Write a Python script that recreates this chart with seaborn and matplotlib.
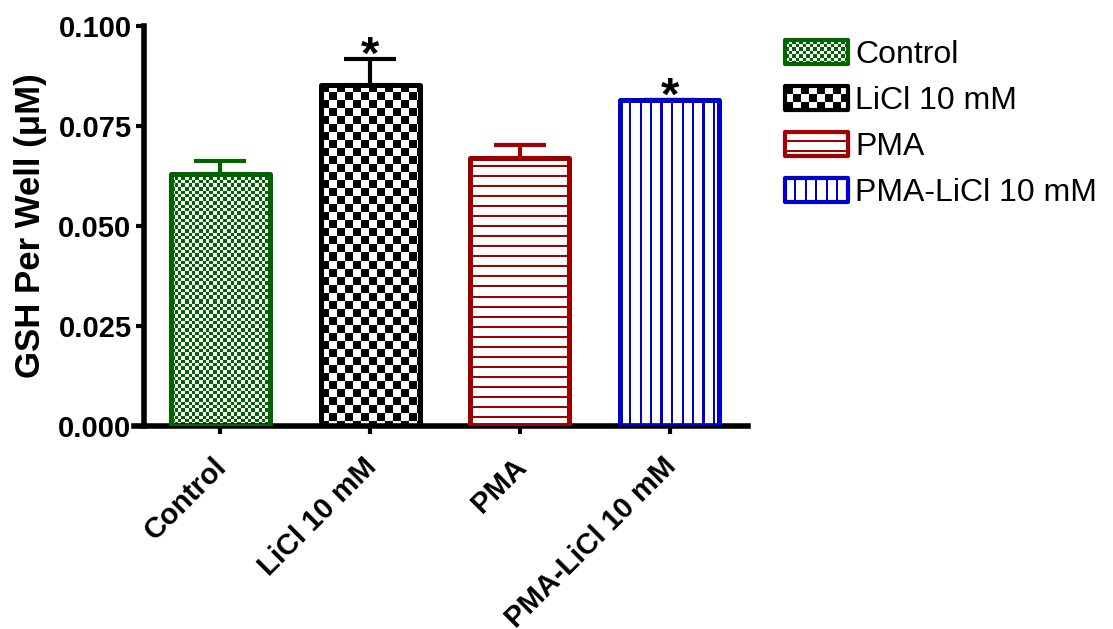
import numpy as np
import pandas as pd
import matplotlib
matplotlib.use('Agg')
import matplotlib.pyplot as plt
import seaborn as sns
from matplotlib.patches import Rectangle, Patch
from matplotlib.legend_handler import HandlerBase
from matplotlib.transforms import ScaledTranslation

# valores
groups = ['Control', 'LiCl 10 mM', 'PMA', 'PMA-LiCl 10 mM']
gsh = [0.0630, 0.0853, 0.0671, 0.0814]
sem = [0.0033, 0.0065, 0.0031, 0.0]
signif = ['', '*', '', '*']
colors = ['#006400', '#000000', '#a00000', '#0000cc']
patterns = ['fine_checker', 'checker', 'hlines', 'vlines']
yticks = [0.000, 0.025, 0.050, 0.075, 0.100]

sns.set_style('ticks')
plt.rcParams['font.family'] = ['Liberation Sans', 'DejaVu Sans']
plt.rcParams['font.weight'] = 'bold'
for key in ('text.color', 'axes.labelcolor', 'xtick.color', 'ytick.color', 'axes.edgecolor'):
    plt.rcParams[key] = 'black'


def cells(kind, w, h):
    # retângulos "cheios" do padrão, em pixels, origem no topo-esquerdo
    out = []
    if kind in ('fine_checker', 'checker'):
        c = 3.5 if kind == 'fine_checker' else 8.0
        for r in range(int(np.ceil(h / c))):
            for q in range(int(np.ceil(w / c))):
                if (r + q) % 2 == 0:
                    out.append((q * c, r * c, min(c, w - q * c), min(c, h - r * c)))
    elif kind == 'hlines':
        for y in np.arange(8, h, 10):
            out.append((0, y, w, 2.3))
    elif kind == 'vlines':
        for x in np.arange(9, w, 10.5):
            out.append((x, 0, 2.3, h))
    return out


def raster(kind, w, h, color):
    arr = np.ones((h, w, 4))
    rgb = matplotlib.colors.to_rgb(color)
    for (x, y, cw, ch) in cells(kind, w, h):
        x0, y0 = int(round(x)), int(round(y))
        x1, y1 = int(round(x + cw)), int(round(y + ch))
        arr[y0:y1, x0:x1, :3] = rgb
    return arr


class TextureHandler(HandlerBase):
    def __init__(self, kind, color):
        super().__init__()
        self.kind = kind
        self.color = color

    def create_artists(self, legend, orig_handle, xdescent, ydescent,
                       width, height, fontsize, trans):
        x0, y0 = -xdescent, -ydescent
        k = 72 / 100.0
        arts = [Rectangle((x0, y0), width, height, facecolor='white',
                          edgecolor='none', transform=trans)]
        for (x, y, cw, ch) in cells(self.kind, width / k, height / k):
            arts.append(Rectangle((x0 + x * k, y0 + height - (y + ch) * k),
                                  cw * k, ch * k, facecolor=self.color,
                                  edgecolor='none', transform=trans))
        arts.append(Rectangle((x0, y0), width, height, facecolor='none',
                              edgecolor=self.color, linewidth=3,
                              joinstyle='round', transform=trans))
        return arts


df = pd.DataFrame({'condition': groups, 'gsh': gsh})

fig, ax = plt.subplots(figsize=(11.13, 6.29), dpi=100)
fig.subplots_adjust(left=0.1294, right=0.672, bottom=0.3227, top=0.9587)

sns.barplot(data=df, x='condition', y='gsh', hue='condition',
            palette=colors, errorbar=None, width=0.66, fill=False,
            linewidth=3.6, legend=False, ax=ax)

xlim = (-0.507, 3.52)
ax.set_xlim(*xlim)
ax.set_ylim(0, 0.1)

bars = sorted(ax.patches, key=lambda p: p.get_x())
fig.canvas.draw()
for i, patch in enumerate(bars):
    patch.set_zorder(3)
    patch.set_joinstyle('round')
    bb = patch.get_window_extent()
    w_px, h_px = int(round(bb.width)), int(round(bb.height))
    tex = raster(patterns[i], w_px, h_px, colors[i])
    im = ax.imshow(tex, extent=(patch.get_x(), patch.get_x() + patch.get_width(),
                                0, patch.get_height()),
                   aspect='auto', interpolation='nearest', zorder=2)
    im.set_clip_path(patch)

for i in range(len(groups)):
    ax.errorbar(i, gsh[i], yerr=[[0], [sem[i]]], fmt='none', ecolor=colors[i],
                elinewidth=3, capsize=18.7, capthick=3, zorder=2.5)
    if signif[i]:
        ax.annotate(signif[i], xy=(i, gsh[i] + sem[i]), xytext=(0, -7),
                    textcoords='offset points', ha='center', va='baseline',
                    fontsize=34, fontweight='bold')

ax.set_xlim(*xlim)
ax.set_ylim(0, 0.1)
ax.set_yticks(yticks)
ax.set_yticklabels([f'{v:.3f}' for v in yticks])

sns.despine(ax=ax)
for s in ('left', 'bottom'):
    ax.spines[s].set_linewidth(4)
ax.spines['bottom'].set_bounds(-0.575, xlim[1])

ax.tick_params(axis='y', width=3, length=5.5, labelsize=21, pad=3.5)
ax.tick_params(axis='x', width=3, length=6, labelsize=21, pad=13)
ax.set_xlabel('')
ax.set_ylabel('GSH Per Well (\u03bcM)', fontsize=25, fontweight='bold', labelpad=8)

shift = ScaledTranslation(-8 / 100, 0, fig.dpi_scale_trans)
for lab in ax.get_xticklabels():
    lab.set_rotation(45)
    lab.set_rotation_mode('anchor')
    lab.set_ha('right')
    lab.set_va('top')
    lab.set_transform(lab.get_transform() + shift)

proxies = [Patch(facecolor='white', edgecolor=c) for c in colors]
hmap = {p: TextureHandler(k, c) for p, k, c in zip(proxies, patterns, colors)}
fig.legend(proxies, groups, handler_map=hmap, loc='upper left',
           bbox_to_anchor=(785 / 1113, 1 - 40 / 629), frameon=False,
           borderpad=0, borderaxespad=0, handlelength=1.97, handleheight=0.8,
           handletextpad=0.22, labelspacing=0.49,
           prop={'size': 23, 'weight': 'normal'})

fig.savefig('out.png', dpi=100)
